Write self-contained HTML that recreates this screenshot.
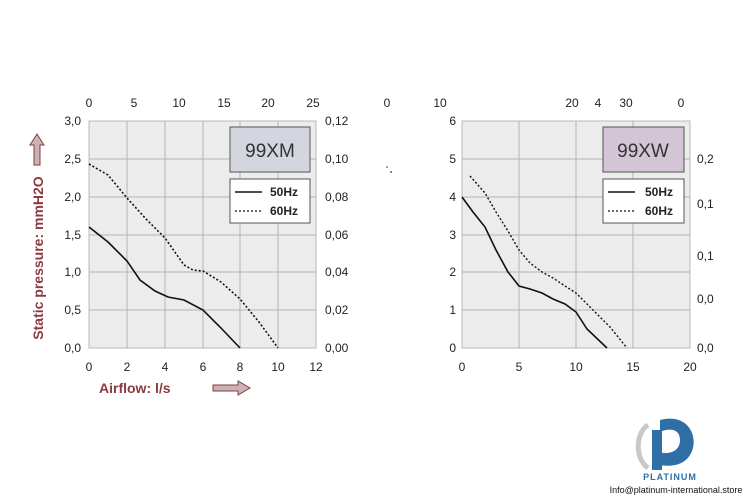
<!DOCTYPE html>
<html><head><meta charset="utf-8"><style>
html,body{margin:0;padding:0;background:#fff;}
svg{display:block;font-family:"Liberation Sans",sans-serif;}
</style></head><body>
<svg width="750" height="500" viewBox="0 0 750 500" xmlns="http://www.w3.org/2000/svg">
<rect width="750" height="500" fill="#fff"/>
<!-- LEFT CHART -->
<rect x="89" y="121" width="227" height="227" fill="#ececec" stroke="#b8b8b8"/>
<g stroke="#b4b4b4" stroke-width="1">
<line x1="127" y1="121" x2="127" y2="348"/><line x1="165" y1="121" x2="165" y2="348"/>
<line x1="203" y1="121" x2="203" y2="348"/><line x1="240" y1="121" x2="240" y2="348"/>
<line x1="278" y1="121" x2="278" y2="348"/>
<line x1="89" y1="159" x2="316" y2="159"/><line x1="89" y1="197" x2="316" y2="197"/>
<line x1="89" y1="235" x2="316" y2="235"/><line x1="89" y1="272" x2="316" y2="272"/>
<line x1="89" y1="310" x2="316" y2="310"/>
</g>
<g font-size="12" fill="#222" text-anchor="end">
<text x="81" y="125">3,0</text><text x="81" y="163">2,5</text><text x="81" y="201">2,0</text>
<text x="81" y="239">1,5</text><text x="81" y="276">1,0</text><text x="81" y="314">0,5</text><text x="81" y="352">0,0</text>
</g>
<g font-size="12" fill="#222">
<text x="325" y="125">0,12</text><text x="325" y="163">0,10</text><text x="325" y="201">0,08</text>
<text x="325" y="239">0,06</text><text x="325" y="276">0,04</text><text x="325" y="314">0,02</text><text x="325" y="352">0,00</text>
</g>
<g font-size="12" fill="#222" text-anchor="middle">
<text x="89" y="371">0</text><text x="127" y="371">2</text><text x="165" y="371">4</text><text x="203" y="371">6</text>
<text x="240" y="371">8</text><text x="278" y="371">10</text><text x="316" y="371">12</text>
<text x="89" y="107">0</text><text x="134" y="107">5</text><text x="179" y="107">10</text><text x="224" y="107">15</text>
<text x="268" y="107">20</text><text x="313" y="107">25</text>
</g>
<polyline fill="none" stroke="#111" stroke-width="1.6" points="89,227 108,242 127,261 140,280 155,291 168,297 184,300 203,310 221,328 240,348"/>
<polyline fill="none" stroke="#111" stroke-width="1.6" stroke-dasharray="2,2" points="89,164 108,175 127,198 146,219 165,238 184,265 193,270 203,271 221,282 240,299 259,322 278,348"/>
<rect x="230" y="127" width="80" height="45" fill="#d3d6de" stroke="#555"/>
<text x="270" y="157" font-size="19" text-anchor="middle" fill="#333">99XM</text>
<rect x="230" y="179" width="80" height="44" fill="#fff" stroke="#555"/>
<line x1="235" y1="192" x2="262" y2="192" stroke="#111" stroke-width="1.5"/>
<line x1="235" y1="211" x2="262" y2="211" stroke="#111" stroke-width="1.2" stroke-dasharray="2,2"/>
<text x="270" y="196" font-size="12" font-weight="bold" fill="#222">50Hz</text>
<text x="270" y="215" font-size="12" font-weight="bold" fill="#222">60Hz</text>
<!-- axis titles -->
<text transform="translate(43,258) rotate(-90)" font-size="14" font-weight="bold" fill="#8b3a40" text-anchor="middle">Static pressure: mmH2O</text>
<path d="M34,165 L34,145 L30,145 L37,134 L44,145 L40,145 L40,165 Z" fill="#c9b3b5" stroke="#8b3a40" stroke-width="1"/>
<text x="99" y="393" font-size="14" font-weight="bold" fill="#8b3a40">Airflow: l/s</text>
<path d="M213,385 L238,385 L238,381 L250,388 L238,395 L238,391 L213,391 Z" fill="#c9b3b5" stroke="#8b3a40" stroke-width="1"/>
<!-- RIGHT CHART -->
<rect x="462" y="121" width="228" height="227" fill="#ececec" stroke="#b8b8b8"/>
<g stroke="#b4b4b4" stroke-width="1">
<line x1="519" y1="121" x2="519" y2="348"/><line x1="576" y1="121" x2="576" y2="348"/>
<line x1="633" y1="121" x2="633" y2="348"/>
<line x1="462" y1="159" x2="690" y2="159"/><line x1="462" y1="197" x2="690" y2="197"/>
<line x1="462" y1="235" x2="690" y2="235"/><line x1="462" y1="272" x2="690" y2="272"/>
<line x1="462" y1="310" x2="690" y2="310"/>
</g>
<g font-size="12" fill="#222" text-anchor="end">
<text x="456" y="125">6</text><text x="456" y="163">5</text><text x="456" y="201">4</text>
<text x="456" y="239">3</text><text x="456" y="276">2</text><text x="456" y="314">1</text><text x="456" y="352">0</text>
</g>
<g font-size="12" fill="#222">
<text x="697" y="163">0,2</text><text x="697" y="208">0,1</text><text x="697" y="260">0,1</text>
<text x="697" y="303">0,0</text><text x="697" y="352">0,0</text>
</g>
<g font-size="12" fill="#222" text-anchor="middle">
<text x="462" y="371">0</text><text x="519" y="371">5</text><text x="576" y="371">10</text>
<text x="633" y="371">15</text><text x="690" y="371">20</text>
<text x="387" y="107">0</text><text x="440" y="107">10</text><text x="572" y="107">20</text><text x="598" y="107">4</text>
<text x="626" y="107">30</text><text x="681" y="107">0</text>
</g>
<circle cx="387" cy="167" r="0.8" fill="#333"/><circle cx="391" cy="172" r="0.9" fill="#333"/>
<polyline fill="none" stroke="#111" stroke-width="1.6" points="462,197 473,212 485,227 496,250 508,272 519,286 530,289 542,293 553,299 565,304 576,312 587,329 607,348"/>
<polyline fill="none" stroke="#111" stroke-width="1.4" stroke-dasharray="2,2" points="470,176 485,193 496,212 508,231 519,250 530,263 542,272 553,278 565,286 576,293 587,304 599,316 610,327 627,348"/>
<rect x="603" y="127" width="81" height="45" fill="#d4c5d6" stroke="#555"/>
<text x="643" y="157" font-size="19" text-anchor="middle" fill="#333">99XW</text>
<rect x="603" y="179" width="81" height="44" fill="#fff" stroke="#555"/>
<line x1="608" y1="192" x2="635" y2="192" stroke="#111" stroke-width="1.5"/>
<line x1="608" y1="211" x2="635" y2="211" stroke="#111" stroke-width="1.2" stroke-dasharray="2,2"/>
<text x="645" y="196" font-size="12" font-weight="bold" fill="#222">50Hz</text>
<text x="645" y="215" font-size="12" font-weight="bold" fill="#222">60Hz</text>
<!-- logo -->
<path d="M660,420 C690,412 700,440 690,455 C682,468 666,466 658,465 L658,452 C668,455 680,452 680,440 C680,428 668,428 660,432 Z" fill="#2e6fa5"/>
<rect x="652" y="430" width="10" height="40" fill="#2e6fa5"/>
<path d="M648,425 C636,432 634,458 648,468" fill="none" stroke="#c8c8c8" stroke-width="5"/>
<text x="670" y="480" font-size="9" font-weight="bold" fill="#2e6fa5" text-anchor="middle" letter-spacing="1">PLATINUM</text>
<text x="676" y="493" font-size="9" fill="#111" text-anchor="middle">Info@platinum-international.store</text>
</svg>
</body></html>
